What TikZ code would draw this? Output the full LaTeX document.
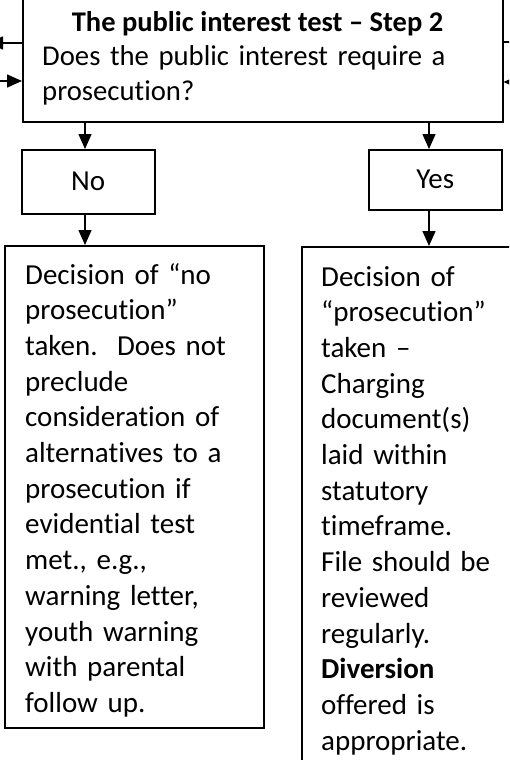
\documentclass[tikz,border=0pt]{standalone}
\usepackage{fontspec}
\setmainfont{Carlito}[Ligatures={TeX,NoCommon}]
\usetikzlibrary{arrows.meta}
\begin{document}
\frenchspacing
\begin{tikzpicture}[x=1pt,y=-1pt,
  box/.style={draw, line width=1.5pt, inner sep=0pt, anchor=north west},
  arr/.style={line width=1.5pt, -{Triangle[length=15pt,width=13pt]}},
  ln/.style={line width=1.5pt},
  bigfont/.style={font=\fontsize{29}{35.7}\selectfont\frenchspacing},
  txt/.style={inner sep=0pt, align=left, bigfont},
  lab/.style={box, bigfont, text height=18pt, text depth=0pt}]
\useasboundingbox (0,0) rectangle (509,760);
\clip (0,0) rectangle (509,760);
% boxes
\node[box, minimum width=480, minimum height=141] (top) at (22,-20) {};
\node[lab, minimum width=133, minimum height=64] (no) at (21,149) {No};
\node[lab, minimum width=133, minimum height=60] (yes) at (368,149) {Yes};
\node[box, minimum width=259, minimum height=482] (dno) at (4,245) {};
\node[box, minimum width=240, minimum height=560] (dyes) at (301,246) {};
% texts
\node[txt, anchor=base, font=\fontsize{28.5}{34.5}\selectfont] (ttl) at (257.5,32) {\bfseries The public interest test – Step 2};
\node[txt, text width=440, anchor=base west, font=\fontsize{28.7}{34.5}\selectfont] (q) at (42,66)
  {Does the public interest require a\\prosecution?};
\node[txt, text width=235, anchor=base west] (tno) at (25,284)
  {Decision of “no\\prosecution”\\taken.\ \ Does not\\preclude\\consideration of\\alternatives to a\\prosecution if\\evidential test\\met., e.g.,\\warning letter,\\youth warning\\with parental\\follow up.};
\node[txt, text width=200, anchor=base west] (tyes) at (321,286)
  {Decision of\\“prosecution”\\taken –\\Charging\\document(s)\\laid within\\statutory\\timeframe.\\File should be\\reviewed\\regularly.\\\textbf{Diversion}\\offered is\\appropriate.};
% connectors
\coordinate (cl) at (85,0);
\coordinate (cr) at (429,0);
\draw[arr] (top.south -| cl) -- (no.north -| cl);
\draw[arr] (top.south -| cr) -- (yes.north -| cr);
\draw[arr] (no.south -| cl) -- (dno.north -| cl);
\draw[arr] (yes.south -| cr) -- (dyes.north -| cr);
\coordinate (lout) at (-12,43);
\coordinate (lin) at (-5,81);
\coordinate (rout) at (515,42);
\coordinate (rin) at (525,82);
\draw[arr] (top.west |- lout) -- (lout);
\draw[arr] (lin) -- (top.west |- lin);
\draw[ln] (top.east |- rout) -- (rout);
\draw[arr] (rin) -- (top.east |- rin);
\end{tikzpicture}
\end{document}
